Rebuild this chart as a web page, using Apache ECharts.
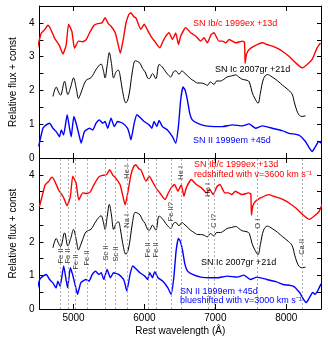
<!DOCTYPE html>
<html>
<head>
<meta charset="utf-8">
<script src="https://cdn.jsdelivr.net/npm/echarts@6/dist/echarts.min.js"></script>
<style>
  html, body { margin: 0; padding: 0; background: #fff; }
  #chart { width: 328px; height: 338px; }
</style>
</head>
<body>
<div id="chart"></div>
<script>
// SN Ib/c 1999ex +13d
var redWave = [4466, 4509, 4546, 4593, 4640, 4677, 4733, 4803, 4851, 4897, 4930, 4977, 5014, 5070, 5131, 5178, 5225, 5290, 5340, 5400, 5445, 5490, 5530, 5590, 5625, 5660, 5700, 5740, 5780, 5810, 5850, 5880, 5950, 5997, 6040, 6090, 6161, 6217, 6260, 6302, 6348, 6395, 6442, 6480, 6512, 6582, 6652, 6723, 6793, 6840, 6887, 6940, 6980, 7050, 7102, 7144, 7196, 7289, 7383, 7411, 7420, 7439, 7477, 7547, 7664, 7730, 7804, 7870, 7944, 8038, 8131, 8225, 8295, 8365, 8435, 8482];
var redFlux = [3.05, 3.41, 3.70, 3.80, 3.93, 3.82, 3.55, 3.32, 3.08, 3.35, 3.96, 3.75, 3.25, 3.46, 3.44, 3.50, 3.70, 3.93, 3.98, 4.00, 4.15, 3.98, 3.90, 3.70, 3.40, 3.10, 3.50, 3.99, 4.25, 4.30, 4.18, 4.15, 3.81, 3.96, 3.80, 3.61, 3.41, 3.26, 3.45, 3.61, 3.71, 3.51, 3.70, 3.36, 3.61, 3.86, 3.71, 3.61, 3.46, 3.56, 3.41, 3.65, 3.71, 3.46, 3.46, 3.41, 3.51, 3.41, 3.46, 3.43, 2.80, 3.07, 3.21, 3.31, 3.41, 3.36, 3.31, 3.25, 3.16, 3.01, 2.82, 2.67, 2.77, 2.92, 3.26, 3.41];

// SN Ic 2007gr +21d
var blackWave = [4710, 4757, 4790, 4817, 4874, 4920, 4960, 5000, 5040, 5070, 5100, 5131, 5178, 5248, 5318, 5388, 5420, 5445, 5475, 5505, 5535, 5566, 5600, 5632, 5660, 5690, 5739, 5770, 5800, 5833, 5870, 5900, 5940, 5973, 6010, 6044, 6070, 6114, 6161, 6207, 6250, 6301, 6340, 6371, 6410, 6441, 6488, 6530, 6549, 6605, 6650, 6699, 6750, 6792, 6840, 6886, 6930, 6980, 7020, 7073, 7120, 7167, 7230, 7288, 7330, 7380, 7448, 7480, 7518, 7560, 7602, 7635, 7680, 7733, 7800, 7880, 7950, 8010, 8080, 8120, 8150, 8178, 8220, 8271];
var blackFlux = [1.82, 2.10, 1.95, 1.86, 2.27, 1.88, 2.10, 2.37, 2.05, 1.76, 1.90, 2.08, 2.30, 2.38, 2.62, 2.78, 2.60, 2.37, 2.75, 3.12, 2.80, 2.37, 2.55, 2.60, 2.40, 2.00, 1.63, 1.75, 2.10, 2.60, 2.88, 2.86, 2.80, 2.65, 2.55, 2.37, 2.35, 2.50, 2.35, 2.77, 2.70, 2.55, 2.45, 2.40, 2.55, 2.58, 2.48, 2.58, 2.55, 2.44, 2.35, 2.28, 2.22, 2.22, 2.20, 2.15, 2.25, 2.18, 2.28, 2.28, 2.33, 2.40, 2.43, 2.46, 2.40, 2.33, 2.30, 2.25, 1.95, 1.75, 1.62, 1.92, 2.35, 2.47, 2.40, 2.28, 2.15, 2.05, 1.90, 1.60, 1.40, 1.28, 1.23, 1.25];

// SN II 1999em +45d
var blueWave = [4509, 4569, 4616, 4663, 4710, 4757, 4803, 4827, 4860, 4911, 4944, 4967, 5005, 5037, 5084, 5108, 5154, 5225, 5271, 5318, 5365, 5412, 5445, 5482, 5529, 5576, 5622, 5693, 5763, 5786, 5810, 5856, 5894, 5950, 5997, 6067, 6104, 6137, 6175, 6207, 6254, 6324, 6395, 6441, 6479, 6512, 6544, 6572, 6605, 6638, 6675, 6746, 6863, 7003, 7101, 7242, 7382, 7476, 7569, 7663, 7803, 7944, 8037, 8178, 8271, 8327, 8365, 8412, 8458, 8491, 8530, 8576];
var blueFlux = [0.34, 0.88, 0.98, 1.03, 0.88, 0.78, 0.63, 0.83, 0.68, 1.28, 0.88, 0.63, 1.23, 1.03, 0.63, 0.44, 0.78, 0.88, 0.83, 1.03, 1.13, 1.03, 1.08, 0.88, 1.18, 0.93, 1.08, 1.03, 0.88, 0.73, 0.54, 1.03, 1.28, 1.18, 1.08, 0.98, 0.88, 1.08, 0.93, 1.11, 0.93, 0.83, 0.63, 0.44, 0.93, 1.73, 2.10, 2.02, 1.73, 1.33, 1.13, 1.03, 0.95, 0.93, 0.93, 0.98, 0.95, 1.01, 0.88, 0.95, 0.88, 0.81, 0.73, 0.68, 0.49, 0.29, 0.19, 0.34, 0.49, 0.44, 0.55, 0.75];

// velocity shifts used in the lower panel (km/s)
var redShiftV = 3600;
var blueShiftV = -3000;

// line identifications in the lower panel
var idNames = ['Fe II', 'Fe II', 'Fe II', 'Fe II', 'Sc II', 'Sc II', 'Na I', 'He I', 'Fe II', 'Fe II', 'Fe II?', 'He I', 'He I', 'C I?', 'O I', 'Ca II'];
var idWave = [4817, 4919, 5031, 5192, 5452, 5593, 5754, 5754, 6056, 6169, 6372, 6513, 6899, 6980, 7594, 8219];
var idFlux = [1.58, 1.58, 1.40, 1.52, 1.67, 1.64, 2.63, 4.09, 1.76, 1.76, 2.90, 4.06, 3.55, 2.63, 2.54, 1.85];
var dashWave = [4817, 4919, 5031, 5192, 5452, 5593, 5754, 6056, 6169, 6372, 6513, 6899, 6980, 7594, 8219];

var xTicks = [5000, 6000, 7000, 8000];
var yLabels = [0, 1, 2, 3, 4];
var yTicks = [0, 0.5, 1, 1.5, 2, 2.5, 3, 3.5, 4];

var RED = '#ff0000', BLUE = '#0000ff', BLACK = '#000000';
var FONT = 'Liberation Sans, Arial, sans-serif';
var C = 299792.458;

function pairs(w, f, v) {
    var k = 1 + (v || 0) / C;
    return w.map(function (x, i) { return [x * k, f[i]]; });
}

var myChart = echarts.init(document.getElementById('chart'));

var gridTop = { left: 38, top: 6, width: 283, height: 152 };
var gridBot = { left: 38, top: 158, width: 283, height: 151 };

function xAx(grid, pos, labels) {
    return {
        gridIndex: grid, type: 'value', position: pos, min: 4520, max: 8490,
        axisLine: { show: true, onZero: false, lineStyle: { color: BLACK, width: 1 } },
        axisTick: { show: true, inside: true, length: 5, customValues: xTicks, lineStyle: { color: BLACK } },
        axisLabel: {
            show: labels, customValues: xTicks, margin: 4, color: BLACK, fontSize: 10, fontFamily: FONT,
            formatter: function (v) { return String(v); }
        },
        splitLine: { show: false },
        name: labels ? 'Rest wavelength (Å)' : '',
        nameLocation: 'middle', nameGap: 17,
        nameTextStyle: { color: BLACK, fontSize: 10, fontFamily: FONT }
    };
}
function yAx(grid, pos, labels) {
    return {
        gridIndex: grid, type: 'value', position: pos, min: 0, max: 4.5,
        axisLine: { show: true, onZero: false, lineStyle: { color: BLACK, width: 1 } },
        axisTick: { show: true, inside: true, length: 4, customValues: yTicks, lineStyle: { color: BLACK } },
        axisLabel: { show: labels, customValues: yLabels, margin: 5, color: BLACK, fontSize: 10, fontFamily: FONT },
        splitLine: { show: false },
        name: labels ? 'Relative flux + const' : '',
        nameLocation: 'middle', nameGap: 16, nameRotate: 90,
        nameTextStyle: { color: BLACK, fontSize: 10, fontFamily: FONT }
    };
}

function spec(name, data, color, xi, width) {
    return {
        name: name, type: 'line', xAxisIndex: xi, yAxisIndex: xi,
        data: data, showSymbol: false, symbol: 'none', z: 3,
        smooth: color === BLACK ? 0.35 : 0.15,
        lineStyle: { color: color, width: width },
        silent: true, animation: false
    };
}

var annot = [
    ['SN Ib/c 1999ex +13d', 193, 24, RED],
    ['SN Ic 2007gr +21d', 215, 70, BLACK],
    ['SN II 1999em +45d', 193, 141, BLUE],
    ['SN Ib/c 1999ex +13d', 194, 165, RED],
    ['redshifted with v=3600 km s⁻¹', 194, 175, RED],
    ['SN Ic 2007gr +21d', 201, 263, BLACK],
    ['SN II 1999em +45d', 180, 292, BLUE],
    ['blueshifted with v=3000 km s⁻¹', 180, 301, BLUE]
];

var option = {
    backgroundColor: '#fff',
    animation: false,
    grid: [gridTop, gridBot],
    xAxis: [xAx(0, 'bottom', false), xAx(0, 'top', false), xAx(1, 'bottom', true), xAx(1, 'top', false)],
    yAxis: [yAx(0, 'left', true), yAx(0, 'right', false), yAx(1, 'left', true), yAx(1, 'right', false)],
    graphic: annot.map(function (a) {
        return {
            type: 'text', x: a[1], y: a[2], z: 10,
            style: { text: a[0], fill: a[3], fontSize: 9, fontFamily: FONT, verticalAlign: 'middle' }
        };
    }),
    series: [
        spec('red-top', pairs(redWave, redFlux), RED, 0, 1.4),
        spec('black-top', pairs(blackWave, blackFlux), BLACK, 0, 1),
        spec('blue-top', pairs(blueWave, blueFlux), BLUE, 0, 1.4),
        {
            name: 'lines', type: 'line', xAxisIndex: 2, yAxisIndex: 2, data: [], z: 1,
            markLine: {
                silent: true, symbol: 'none', label: { show: false },
                lineStyle: { color: '#9a9a9a', type: [2, 2], width: 0.8 },
                data: dashWave.map(function (w) { return { xAxis: w }; })
            }
        },
        spec('red-bot', pairs(redWave, redFlux, redShiftV), RED, 2, 1.4),
        spec('black-bot', pairs(blackWave, blackFlux), BLACK, 2, 1),
        spec('blue-bot', pairs(blueWave, blueFlux, blueShiftV), BLUE, 2, 1.4),
        {
            name: 'ids', type: 'scatter', xAxisIndex: 2, yAxisIndex: 2, symbolSize: 0, z: 5, silent: true,
            data: idWave.map(function (w, i) { return [w, idFlux[i], idNames[i]]; }),
            label: {
                show: true, position: 'inside', rotate: 90, color: BLACK,
                fontSize: 7.5, fontFamily: FONT,
                formatter: function (p) { return p.data[2]; }
            }
        }
    ]
};

myChart.setOption(option);
</script>
</body>
</html>
